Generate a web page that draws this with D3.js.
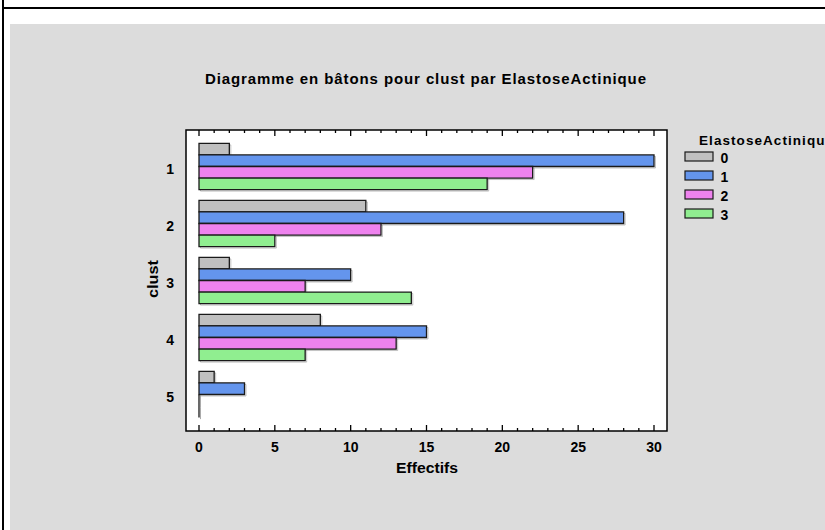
<!DOCTYPE html>
<html><head><meta charset="utf-8">
<script src="https://cdn.jsdelivr.net/npm/d3@7"></script>
<style>body{margin:0;background:#fff;overflow:hidden}svg{display:block;font-family:"Liberation Sans",Arial,sans-serif;font-weight:bold}</style>
</head><body>
<script>
const categories = ["1","2","3","4","5"];
const seriesNames = ["0","1","2","3"];
const seriesColors = ["#C0C0C0","#6495ED","#EE82EE","#90EE90"];
const values0 = [2, 11, 2, 8, 1];
const values1 = [30, 28, 10, 15, 3];
const values2 = [22, 12, 7, 13, 0];
const values3 = [19, 5, 14, 7, 0];
const xTicks = [0,5,10,15,20,25,30];
const title = "Diagramme en bâtons pour clust par ElastoseActinique";
const xTitle = "Effectifs", yTitle = "clust", legendTitle = "ElastoseActinique";

const series = [values0, values1, values2, values3];
const W = 825, H = 530;
const svg = d3.select("body").append("svg").attr("width", W).attr("height", H);

// page frame
svg.append("rect").attr("x",10).attr("y",24).attr("width",W-10).attr("height",H-24).attr("fill","#DCDCDC");
svg.append("line").attr("x1",3).attr("x2",3).attr("y1",0).attr("y2",H).attr("stroke","#000").attr("stroke-width",2);
svg.append("line").attr("x1",3).attr("x2",W).attr("y1",8).attr("y2",8).attr("stroke","#000").attr("stroke-width",2);

const plot = {l:186, t:130, r:667, b:431};
svg.append("rect").attr("x",plot.l).attr("y",plot.t).attr("width",plot.r-plot.l).attr("height",plot.b-plot.t)
  .attr("fill","#fff");

const x = d3.scaleLinear().domain([0,30]).range([199,654]);
const y = d3.scaleBand().domain(categories).range([138,423]).paddingInner(0.19).paddingOuter(0.095);
const yi = d3.scaleBand().domain(seriesNames).range([0, y.bandwidth()]);

const g = svg.append("g");
categories.forEach((c, ci) => {
  seriesNames.forEach((s, si) => {
    const v = series[si][ci];
    const x0 = x(0), x1 = x(v), y0 = y(c) + yi(s), y1 = y0 + yi.bandwidth();
    g.append("path").attr("d", `M${x0+1.5},${y0+1.5}H${x1+1.5}V${y1+1.5}H${x0+1.5}Z`)
      .attr("fill","none").attr("stroke","#999").attr("stroke-width",1).attr("opacity",0.6);
    g.append("path").attr("d", `M${x0},${y0}H${x1}V${y1}H${x0}Z`)
      .attr("fill", seriesColors[si]).attr("stroke","#1a1a1a").attr("stroke-width",1.3);
  });
});

// frame
svg.append("rect").attr("x",plot.l).attr("y",plot.t).attr("width",plot.r-plot.l).attr("height",plot.b-plot.t)
  .attr("fill","none").attr("stroke","#000").attr("stroke-width",1.5);

// ticks
const minor = d3.range(0,31,1);
const tg = svg.append("g").attr("stroke","#000").attr("stroke-width",1.3);
minor.forEach(v => {
  const len = v % 5 === 0 ? 6 : 3;
  tg.append("line").attr("x1",x(v)).attr("x2",x(v)).attr("y1",plot.t).attr("y2",plot.t+len);
  tg.append("line").attr("x1",x(v)).attr("x2",x(v)).attr("y1",plot.b).attr("y2",plot.b-len);
});

// x tick labels
svg.append("g").selectAll("text").data(xTicks).join("text")
  .attr("x", d => x(d)).attr("y", 452).attr("text-anchor","middle").attr("font-size",14).text(d => d);
svg.append("text").attr("x", 427).attr("y", 473).attr("text-anchor","middle").attr("font-size",14)
  .attr("textLength",62).attr("lengthAdjust","spacingAndGlyphs").text(xTitle);

// y labels
svg.append("g").selectAll("text").data(categories).join("text")
  .attr("x", 174).attr("y", d => y(d) + y.bandwidth()/2 + 7).attr("text-anchor","end").attr("font-size",14).text(d => d);
svg.append("text").attr("transform","translate(158,279) rotate(-90)").attr("text-anchor","middle").attr("font-size",14)
  .attr("textLength",38).attr("lengthAdjust","spacingAndGlyphs").text(yTitle);

// title
svg.append("text").attr("x", 425.5).attr("y", 84).attr("text-anchor","middle").attr("font-size",15)
  .attr("textLength",441).attr("lengthAdjust","spacing").text(title);

// legend
svg.append("text").attr("x", 699).attr("y", 145).attr("font-size",13.5)
  .attr("textLength",134).attr("lengthAdjust","spacing").text(legendTitle);
seriesNames.forEach((s, i) => {
  const yy = 152 + i*19;
  svg.append("rect").attr("x",685).attr("y",yy).attr("width",28).attr("height",9)
    .attr("fill",seriesColors[i]).attr("stroke","#1a1a1a").attr("stroke-width",1.2);
  svg.append("text").attr("x",720.5).attr("y",yy+11).attr("font-size",14).text(s);
});
</script>
</body></html>
